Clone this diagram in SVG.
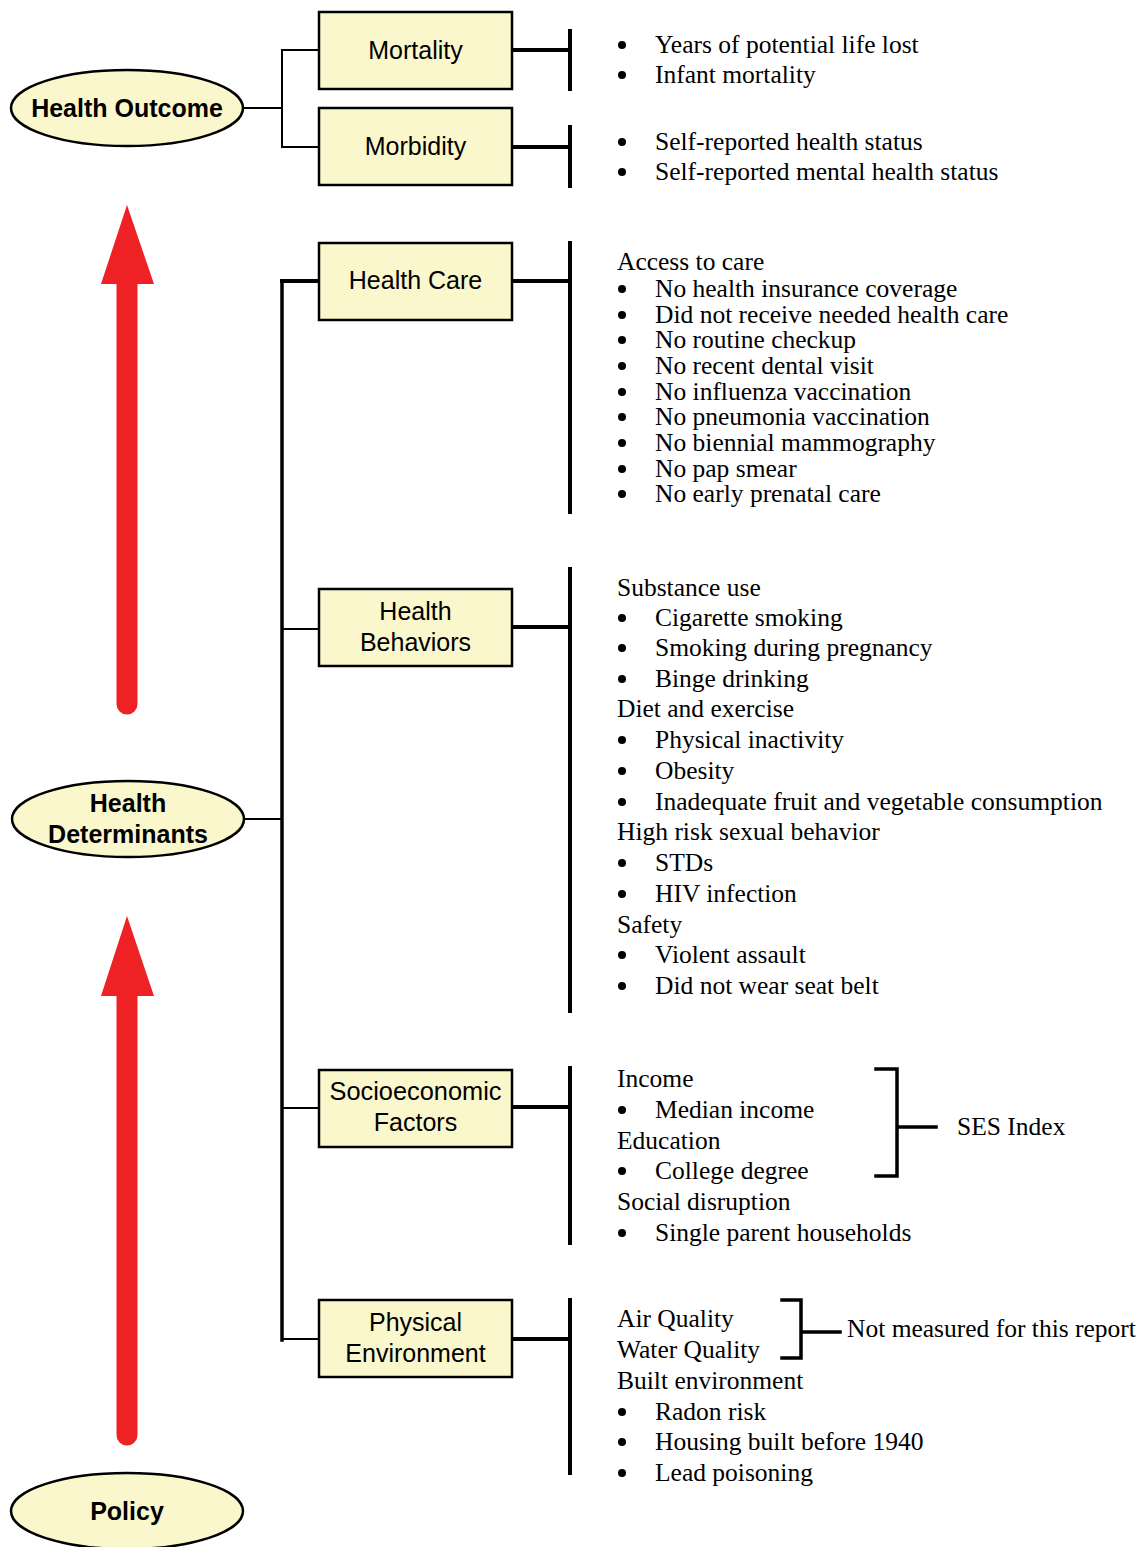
<svg xmlns="http://www.w3.org/2000/svg" width="1142" height="1547" viewBox="0 0 1142 1547">
<style>
.node{fill:#FAF7CC;stroke:#000;stroke-width:2.5}
.lbl{font-family:"Liberation Sans",Arial,sans-serif;font-size:25px;text-anchor:middle;fill:#000}
.bold{font-weight:bold}
.ln{stroke:#000;fill:none;stroke-linecap:square}
.thin{stroke-width:2}
.mid{stroke-width:3.5}
.thick{stroke-width:4}
.txt{font-family:"Liberation Serif","Times New Roman",serif;font-size:25.5px;fill:#000}
.arrow{fill:#EE2124}
.dot{fill:#000}
</style>
<rect width="1142" height="1547" fill="#fff"/>

<g id="arrows">
<path class="arrow" d="M127,205 L154,284 L137.5,284 L137.5,704 A10.5,10.5 0 0 1 116.5,704 L116.5,284 L101,284 Z"/>
<path class="arrow" d="M127,916 L154,996 L137.5,996 L137.5,1435 A10.5,10.5 0 0 1 116.5,1435 L116.5,996 L101,996 Z"/>
</g>

<g id="connectors">
<path class="ln thin" d="M243,108 H282 M282,50 V147 M282,50 H319 M282,147 H319"/>
<path class="ln thick" d="M512,50 H569 M512,147 H569 M512,281 H569 M512,627 H569 M512,1107 H569 M512,1339 H569"/>
<path class="ln thick" d="M570,31 V89 M570,127 V186 M570,243 V512 M570,569 V1011 M570,1068 V1243 M570,1300 V1473" stroke-linecap="round"/>
<path class="ln mid" d="M282,281 V1340"/>
<path class="ln thick" d="M282,281 H319"/>
<path class="ln thin" d="M282,629 H319 M282,1108 H319 M282,1339 H319 M244,819 H282"/>
<path class="ln mid" d="M876,1069 H897 V1176 H876 M897,1127 H936"/>
<path class="ln mid" d="M782,1300 H801 V1358 H782 M801,1332 H840"/>
</g>

<g id="health-outcome">
<ellipse class="node" cx="127" cy="108" rx="116" ry="38"/>
<text class="lbl bold" x="127" y="117">Health Outcome</text>
</g>
<g id="health-determinants">
<ellipse class="node" cx="128" cy="819" rx="116" ry="38"/>
<text class="lbl bold" x="128" y="812">Health</text>
<text class="lbl bold" x="128" y="843">Determinants</text>
</g>
<g id="policy">
<ellipse class="node" cx="127" cy="1511" rx="116" ry="38"/>
<text class="lbl bold" x="127" y="1520">Policy</text>
</g>

<g id="mortality">
<rect class="node" x="319" y="12" width="193" height="77"/>
<text class="lbl" x="415.5" y="59">Mortality</text>
</g>
<g id="morbidity">
<rect class="node" x="319" y="108" width="193" height="77"/>
<text class="lbl" x="415.5" y="155">Morbidity</text>
</g>
<g id="health-care">
<rect class="node" x="319" y="243" width="193" height="77"/>
<text class="lbl" x="415.5" y="289">Health Care</text>
</g>
<g id="health-behaviors">
<rect class="node" x="319" y="589" width="193" height="77"/>
<text class="lbl" x="415.5" y="620">Health</text>
<text class="lbl" x="415.5" y="651">Behaviors</text>
</g>
<g id="socioeconomic">
<rect class="node" x="319" y="1070" width="193" height="77"/>
<text class="lbl" x="415.5" y="1100" textLength="172" lengthAdjust="spacingAndGlyphs">Socioeconomic</text>
<text class="lbl" x="415.5" y="1131">Factors</text>
</g>
<g id="physical-environment">
<rect class="node" x="319" y="1300" width="193" height="77"/>
<text class="lbl" x="415.5" y="1331">Physical</text>
<text class="lbl" x="415.5" y="1362">Environment</text>
</g>

<g id="outcome-lists">
<circle class="dot" cx="622" cy="45" r="4"/><text class="txt" x="655" y="53">Years of potential life lost</text>
<circle class="dot" cx="622" cy="75" r="4"/><text class="txt" x="655" y="83">Infant mortality</text>
<circle class="dot" cx="622" cy="142" r="4"/><text class="txt" x="655" y="150">Self-reported health status</text>
<circle class="dot" cx="622" cy="172" r="4"/><text class="txt" x="655" y="180">Self-reported mental health status</text>
</g>

<g id="health-care-list">
<text class="txt" x="617" y="270">Access to care</text>
<circle class="dot" cx="622" cy="289" r="4"/><text class="txt" x="655" y="297">No health insurance coverage</text>
<circle class="dot" cx="622" cy="315" r="4"/><text class="txt" x="655" y="323">Did not receive needed health care</text>
<circle class="dot" cx="622" cy="340" r="4"/><text class="txt" x="655" y="348">No routine checkup</text>
<circle class="dot" cx="622" cy="366" r="4"/><text class="txt" x="655" y="374">No recent dental visit</text>
<circle class="dot" cx="622" cy="392" r="4"/><text class="txt" x="655" y="400">No influenza vaccination</text>
<circle class="dot" cx="622" cy="417" r="4"/><text class="txt" x="655" y="425">No pneumonia vaccination</text>
<circle class="dot" cx="622" cy="443" r="4"/><text class="txt" x="655" y="451">No biennial mammography</text>
<circle class="dot" cx="622" cy="469" r="4"/><text class="txt" x="655" y="477">No pap smear</text>
<circle class="dot" cx="622" cy="494" r="4"/><text class="txt" x="655" y="502">No early prenatal care</text>
</g>

<g id="behaviors-list">
<text class="txt" x="617" y="596">Substance use</text>
<circle class="dot" cx="622" cy="618" r="4"/><text class="txt" x="655" y="626">Cigarette smoking</text>
<circle class="dot" cx="622" cy="648" r="4"/><text class="txt" x="655" y="656">Smoking during pregnancy</text>
<circle class="dot" cx="622" cy="679" r="4"/><text class="txt" x="655" y="687">Binge drinking</text>
<text class="txt" x="617" y="717">Diet and exercise</text>
<circle class="dot" cx="622" cy="740" r="4"/><text class="txt" x="655" y="748">Physical inactivity</text>
<circle class="dot" cx="622" cy="771" r="4"/><text class="txt" x="655" y="779">Obesity</text>
<circle class="dot" cx="622" cy="802" r="4"/><text class="txt" x="655" y="810">Inadequate fruit and vegetable consumption</text>
<text class="txt" x="617" y="840">High risk sexual behavior</text>
<circle class="dot" cx="622" cy="863" r="4"/><text class="txt" x="655" y="871">STDs</text>
<circle class="dot" cx="622" cy="894" r="4"/><text class="txt" x="655" y="902">HIV infection</text>
<text class="txt" x="617" y="933">Safety</text>
<circle class="dot" cx="622" cy="955" r="4"/><text class="txt" x="655" y="963">Violent assault</text>
<circle class="dot" cx="622" cy="986" r="4"/><text class="txt" x="655" y="994">Did not wear seat belt</text>
</g>

<g id="ses-list">
<text class="txt" x="617" y="1087">Income</text>
<circle class="dot" cx="622" cy="1110" r="4"/><text class="txt" x="655" y="1118">Median income</text>
<text class="txt" x="617" y="1149">Education</text>
<circle class="dot" cx="622" cy="1171" r="4"/><text class="txt" x="655" y="1179">College degree</text>
<text class="txt" x="617" y="1210">Social disruption</text>
<circle class="dot" cx="622" cy="1233" r="4"/><text class="txt" x="655" y="1241">Single parent households</text>
<text class="txt" x="957" y="1135">SES Index</text>
</g>

<g id="environment-list">
<text class="txt" x="617" y="1327">Air Quality</text>
<text class="txt" x="617" y="1358">Water Quality</text>
<text class="txt" x="617" y="1389">Built environment</text>
<circle class="dot" cx="622" cy="1412" r="4"/><text class="txt" x="655" y="1420">Radon risk</text>
<circle class="dot" cx="622" cy="1442" r="4"/><text class="txt" x="655" y="1450">Housing built before 1940</text>
<circle class="dot" cx="622" cy="1473" r="4"/><text class="txt" x="655" y="1481">Lead poisoning</text>
<text class="txt" x="847" y="1337">Not measured for this report</text>
</g>
</svg>
